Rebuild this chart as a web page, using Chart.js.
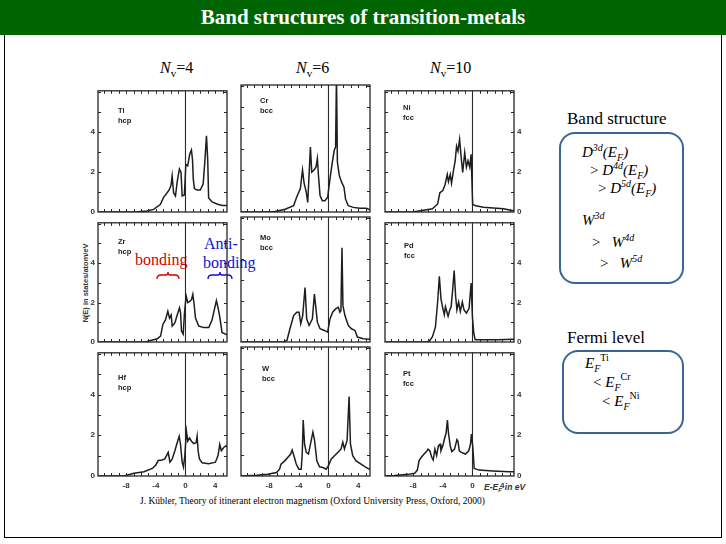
<!DOCTYPE html>
<html>
<head>
<meta charset="utf-8">
<script src="https://cdn.jsdelivr.net/npm/chart.js@4.4.1/dist/chart.umd.min.js"></script>
<style>
  body { margin:0; width:726px; height:544px; position:relative; background:#fff; overflow:hidden;
         font-family:"Liberation Serif","Times New Roman",serif; color:#000; }
  .header { position:absolute; left:0; top:0; width:726px; height:35px; background:#006400; color:#fff;
            font-weight:bold; font-size:21px; text-align:center; line-height:35px; }
  .frame { position:absolute; left:4px; top:35px; width:716px; height:502px;
           border-left:1px solid #000; border-right:1px solid #000; border-bottom:1px solid #000; }
  canvas { position:absolute; filter:blur(0.35px); }
  .t { position:absolute; white-space:nowrap; line-height:1; }
  .nv { font-size:16px; }
  .nv sub { font-size:11px; vertical-align:-4px; line-height:0; }
  .box { position:absolute; border:2px solid #3b6593; border-radius:16px; }
  .m { font-size:15px; }
  .m sup { font-size:10px; vertical-align:6px; line-height:0; }
  .m sub { font-size:10px; vertical-align:-4px; line-height:0; }
  .fig { font-family:"Liberation Sans",Arial,sans-serif; color:#333; font-weight:bold; }
  .lo { display:inline-block; transform:translateY(2px); font-size:6px; margin-right:3px; }
</style>
</head>
<body>
<div class="header">Band structures of transition-metals</div>
<div class="frame"></div>

<div class="t nv" style="left:160px;top:60px"><i>N</i><sub>v</sub>=4</div>
<div class="t nv" style="left:296px;top:60px"><i>N</i><sub>v</sub>=6</div>
<div class="t nv" style="left:430px;top:60px"><i>N</i><sub>v</sub>=10</div>

<div class="t" style="left:135px;top:252px;font-size:16px;color:#d00000">bonding</div>
<div class="t" style="left:204px;top:236px;font-size:16px;color:#1010d0">Anti-</div>
<div class="t" style="left:203px;top:255px;font-size:16px;color:#1010d0">bonding</div>
<svg width="726" height="544" style="position:absolute;left:0;top:0;pointer-events:none">
  <path d="M157,279 Q157,275 161,275 L166,275 Q168,275 168,272 Q168,275 170,275 L175,275 Q179,275 179,279"
        fill="none" stroke="#d00000" stroke-width="1.3"/>
  <path d="M208,279 Q208,275 212,275 L218,275 Q220,275 220,272 Q220,275 222,275 L228,275 Q232,275 232,279"
        fill="none" stroke="#1010d0" stroke-width="1.3"/>
</svg>

<div class="t fig" style="left:86px;top:283px;font-size:7.5px;transform:translate(-50%,-50%) rotate(-90deg)">N(E) in states/atom/eV</div>
<div class="t fig" style="left:484px;top:483px;font-size:8.5px;font-style:italic">E-E<span class="lo">F</span>in eV</div>

<div class="t" style="left:567px;top:110px;font-size:17px">Band structure</div>
<div class="box" style="left:559px;top:132px;width:121px;height:148px"></div>
<div class="t m" style="left:582px;top:145px"><i>D</i><sup><i>3d</i></sup><i>(E<sub>F</sub>)</i></div>
<div class="t m" style="left:590px;top:163px">&gt; <i>D</i><sup><i>4d</i></sup><i>(E<sub>F</sub>)</i></div>
<div class="t m" style="left:598px;top:181px">&gt; <i>D</i><sup><i>5d</i></sup><i>(E<sub>F</sub>)</i></div>
<div class="t m" style="left:582px;top:213px"><i>W</i><sup><i>3d</i></sup></div>
<div class="t m" style="left:592px;top:235px">&gt;&nbsp;&nbsp; <i>W</i><sup><i>4d</i></sup></div>
<div class="t m" style="left:600px;top:256px">&gt;&nbsp;&nbsp; <i>W</i><sup><i>5d</i></sup></div>

<div class="t" style="left:567px;top:329px;font-size:17px">Fermi level</div>
<div class="box" style="left:562px;top:350px;width:118px;height:80px"></div>
<div class="t m" style="left:585px;top:356px"><i>E<sub>F</sub></i><sup style="vertical-align:7px">Ti</sup></div>
<div class="t m" style="left:593px;top:375px">&lt; <i>E<sub>F</sub></i><sup style="vertical-align:7px">Cr</sup></div>
<div class="t m" style="left:602px;top:394px">&lt; <i>E<sub>F</sub></i><sup style="vertical-align:7px">Ni</sup></div>

<div class="t" style="left:140px;top:497px;font-size:9.5px">J. Kübler, Theory of itinerant electron magnetism (Oxford University Press, Oxford, 2000)</div>

<script>
// density of states, [E - E_F (eV), N(E) (states/atom/eV)]
const dosTi = [[-11.8,0],[-6.6,0],[-6.0,0.02],[-5.2,0.05],[-4.3,0.13],[-3.4,0.37],[-2.9,0.77],[-2.7,0.85],[-2.2,1.1],[-1.95,1.33],[-1.8,1.8],[-1.6,0.95],[-1.35,0.8],[-1.12,1.5],[-0.82,2.15],[-0.6,1.97],[-0.45,0.8],[-0.15,0.85],[0.05,2.37],[0.3,2.3],[0.58,2.9],[0.8,3.1],[0.95,2.6],[1.05,1.65],[1.2,1.17],[1.55,1.1],[2.0,1.1],[2.38,1.4],[2.6,2.45],[2.83,3.8],[3.0,2.6],[3.12,0.7],[3.6,0.5],[4.25,0.4],[4.95,0.33],[5.6,0.33]];
const dosCr = [[-11.8,0],[-8,0],[-7.2,0.02],[-5.85,0.13],[-4.7,0.3],[-4.3,0.7],[-3.8,1.1],[-3.5,2.0],[-3.3,1.4],[-3.0,0.95],[-2.8,0.46],[-2.6,1.9],[-2.44,3.1],[-2.26,1.9],[-1.95,2.0],[-1.68,2.15],[-1.5,2.55],[-1.37,1.82],[-1.14,0.78],[-0.83,0.54],[-0.47,0.54],[-0.11,0.7],[0.2,1.58],[0.52,2.38],[0.78,2.94],[0.96,3.1],[1.08,6.6],[1.2,2.38],[1.46,1.74],[1.77,1.42],[2.09,1.18],[2.3,0.62],[2.67,0.3],[3.34,0.22],[4.24,0.18],[5.1,0.18],[5.6,0.11]];
const dosNi = [[-11.8,0],[-8.1,0],[-6.8,0.08],[-5.4,0.16],[-4.7,0.4],[-4.4,0.96],[-4.0,1.07],[-3.7,1.36],[-3.4,1.87],[-3.24,1.52],[-3.0,1.87],[-2.83,1.44],[-2.56,2.08],[-2.33,2.56],[-2.15,3.28],[-1.96,3.04],[-1.74,3.63],[-1.5,2.64],[-1.32,1.97],[-1.05,2.96],[-0.82,2.24],[-0.6,2.56],[-0.37,2.24],[-0.18,2.88],[0.02,0.4],[0.32,0.32],[1.46,0.24],[2.83,0.2],[4.2,0.16],[5.3,0.08],[5.6,0.06]];
const dosZr = [[-11.8,0],[-5.4,0],[-4.7,0.08],[-3.8,0.16],[-3.36,0.3],[-3.05,0.89],[-2.69,1.13],[-2.38,1.56],[-2.15,1.21],[-1.93,1.37],[-1.79,0.81],[-1.43,0.97],[-1.12,1.37],[-0.81,1.73],[-0.67,1.5],[-0.54,0.56],[-0.31,0.4],[-0.13,1.5],[0.09,2.34],[0.31,2.0],[0.58,2.06],[0.81,2.15],[0.99,2.42],[1.17,1.89],[1.35,1.21],[1.79,0.81],[2.47,0.73],[3.14,0.73],[3.59,1.13],[3.81,1.5],[4.17,2.1],[4.39,1.74],[4.62,1.29],[4.93,0.48],[5.6,0.37]];
const dosMo = [[-11.8,0],[-6.1,0],[-5.6,0.08],[-5.2,0.64],[-4.7,1.28],[-4.28,1.44],[-3.97,1.44],[-3.74,0.88],[-3.48,1.28],[-3.16,2.64],[-2.94,1.12],[-2.62,0.8],[-2.17,1.12],[-1.9,2.32],[-1.73,1.76],[-1.5,0.96],[-1.14,0.64],[-0.56,0.56],[-0.11,0.48],[0.2,1.12],[0.56,1.44],[0.96,1.6],[1.32,1.68],[1.55,1.44],[1.68,1.52],[1.82,4.56],[1.95,1.76],[2.22,1.28],[2.67,0.8],[3.1,0.64],[3.57,0.56],[3.9,0.24],[4.7,0.16],[5.6,0.13]];
const dosPd = [[-11.8,0],[-6.3,0],[-5.84,0.03],[-5.4,0.27],[-5.0,0.75],[-4.7,2.03],[-4.47,3.34],[-4.25,2.19],[-4.0,1.71],[-3.8,1.39],[-3.65,1.79],[-3.47,1.55],[-3.29,1.31],[-3.06,1.63],[-2.88,1.79],[-2.65,2.75],[-2.47,3.63],[-2.28,2.35],[-2.1,1.63],[-1.87,2.03],[-1.64,1.55],[-1.37,2.03],[-1.14,1.63],[-0.82,1.47],[-0.46,1.71],[-0.18,2.99],[0.0,1.23],[0.18,0.43],[0.37,0.11],[1.46,0.11],[3.3,0.11],[5.6,0.14]];
const dosHf = [[-11.8,0],[-8.3,0],[-6.95,0.13],[-5.6,0.21],[-4.48,0.37],[-4.04,0.52],[-3.68,0.76],[-3.14,0.79],[-2.78,0.84],[-2.56,1.0],[-2.33,1.16],[-2.1,0.68],[-1.79,0.84],[-1.43,1.24],[-1.12,1.63],[-0.85,1.95],[-0.67,1.56],[-0.45,0.68],[-0.27,0.44],[-0.09,1.0],[0.13,2.19],[0.31,1.71],[0.54,1.87],[0.81,1.71],[1.12,1.59],[1.43,1.63],[1.57,1.95],[1.7,1.24],[1.88,0.84],[2.24,0.65],[3.14,0.6],[4.04,0.68],[4.39,1.0],[4.62,1.56],[4.84,1.24],[5.16,1.4],[5.47,1.48],[5.6,1.43]];
const dosW  = [[-11.8,0],[-9.7,0.03],[-8.2,0.08],[-7.0,0.16],[-6.6,0.32],[-6.4,0.56],[-5.9,0.71],[-5.5,0.87],[-5.1,1.03],[-4.9,1.22],[-4.66,0.95],[-4.35,0.56],[-4.0,0.32],[-3.68,0.32],[-3.54,1.03],[-3.41,2.62],[-3.23,1.51],[-3.0,1.11],[-2.7,1.03],[-2.33,1.67],[-2.1,2.06],[-1.88,1.67],[-1.57,0.71],[-1.21,0.43],[-0.76,0.4],[-0.31,0.32],[0.0,0.48],[0.36,0.79],[0.81,0.95],[1.35,1.14],[1.7,1.27],[1.93,1.59],[2.15,1.27],[2.51,1.67],[2.78,3.73],[2.96,1.51],[3.27,0.95],[3.72,0.71],[4.39,0.56],[5.07,0.4],[5.6,0.3]];
const dosPt = [[-11.8,0],[-10.5,0.02],[-8.7,0.08],[-7.8,0.13],[-7.44,0.29],[-7.2,0.76],[-6.9,0.92],[-6.53,1.08],[-6.2,1.2],[-6.0,1.32],[-5.75,1.24],[-5.5,0.92],[-5.3,0.79],[-5.07,1.32],[-4.84,1.0],[-4.6,1.48],[-4.38,1.56],[-4.25,1.24],[-4.0,1.48],[-3.8,1.79],[-3.56,2.11],[-3.38,2.75],[-3.24,2.11],[-3.0,1.48],[-2.79,1.2],[-2.42,1.32],[-2.1,1.79],[-1.96,1.71],[-1.78,1.24],[-1.5,1.16],[-0.96,1.08],[-0.5,1.24],[-0.27,1.56],[-0.14,2.06],[0.05,1.4],[0.23,0.37],[0.87,0.29],[2.7,0.25],[5.0,0.21],[5.6,0.21]];

const elements = ['Ti', 'Cr', 'Ni', 'Zr', 'Mo', 'Pd', 'Hf', 'W', 'Pt'];
const lattices = ['hcp', 'bcc', 'fcc', 'hcp', 'bcc', 'fcc', 'hcp', 'bcc', 'fcc'];
const dosSets  = [dosTi, dosCr, dosNi, dosZr, dosMo, dosPd, dosHf, dosW, dosPt];

const E_MIN = -11.8, E_MAX = 5.6;
const N_MIN = 0, N_MAX = 6.05;
const E_FERMI = 0;
const eTicks = [-8, -4, 0, 4];
const nTicks = [0, 2, 4];

// panel grid on the page
const colLeft = [98, 241, 385];
const rowTop  = [85, 217, 347];
const rowH    = [127, 125, 129];
const plotW   = 129;
// where the element / lattice names sit inside each panel
const nameOffset = [[20,20],[19,16],[18,17],[20,19],[19,21],[19,23],[20,25],[21,22],[18,21]];

const AXIS_W = 16, AXIS_H = 14, PAD_TOP = 2;
const tickFont = { family: 'Liberation Sans', size: 8, weight: 'bold' };

const panelFrame = {
  id: 'panelFrame',
  afterDraw(chart, args, opts) {
    const { ctx, chartArea: a, scales: { x, y } } = chart;
    ctx.save();
    ctx.strokeStyle = '#262626';
    ctx.lineWidth = 1.3;
    ctx.strokeRect(a.left, a.top, a.right - a.left, a.bottom - a.top);
    ctx.lineWidth = 1;
    ctx.beginPath();
    for (let e = Math.ceil(E_MIN); e <= E_MAX; e++) {
      const px = Math.round(x.getPixelForValue(e)) + 0.5;
      ctx.moveTo(px, a.bottom); ctx.lineTo(px, a.bottom - 3);
      ctx.moveTo(px, a.top);    ctx.lineTo(px, a.top + 3);
    }
    for (let n = 1; n < N_MAX; n++) {
      const py = Math.round(y.getPixelForValue(n)) + 0.5;
      ctx.moveTo(a.left, py);  ctx.lineTo(a.left + 3, py);
      ctx.moveTo(a.right, py); ctx.lineTo(a.right - 3, py);
    }
    ctx.stroke();
    ctx.fillStyle = '#222';
    ctx.font = 'bold 7.5px "Liberation Sans"';
    ctx.textBaseline = 'middle';
    ctx.fillText(opts.name, a.left + opts.dx, a.top + opts.dy);
    ctx.fillText(opts.lattice, a.left + opts.dx, a.top + opts.dy + 10);
    ctx.restore();
  }
};

function yAxis(position, showLabels) {
  return {
    type: 'linear', position, min: N_MIN, max: N_MAX,
    grid: { display: false, drawTicks: false }, border: { display: false },
    afterBuildTicks: s => { s.ticks = nTicks.map(v => ({ value: v })); },
    afterFit: s => { s.width = AXIS_W; },
    ticks: { display: showLabels, font: tickFont, color: '#333', padding: 3 }
  };
}

elements.forEach((name, i) => {
  const col = i % 3, row = Math.floor(i / 3);
  const canvas = document.createElement('canvas');
  canvas.width = plotW + 2 * AXIS_W;
  canvas.height = rowH[row] + AXIS_H + PAD_TOP;
  canvas.style.left = (colLeft[col] - AXIS_W) + 'px';
  canvas.style.top = (rowTop[row] - PAD_TOP) + 'px';
  document.body.appendChild(canvas);

  new Chart(canvas, {
    type: 'line',
    data: {
      datasets: [
        { data: dosSets[i].map(([e, n]) => ({ x: e, y: n })),
          borderColor: '#1e1e1e', borderWidth: 1.5, pointRadius: 0, tension: 0 },
        { data: [{ x: E_FERMI, y: N_MIN }, { x: E_FERMI, y: N_MAX }],
          borderColor: '#2a2a2a', borderWidth: 1.1, pointRadius: 0 }
      ]
    },
    options: {
      responsive: false,
      devicePixelRatio: 1,
      animation: false,
      events: [],
      layout: { padding: { top: PAD_TOP, left: 0, right: 0, bottom: 0 } },
      plugins: {
        legend: { display: false },
        tooltip: { enabled: false },
        panelFrame: { name, lattice: lattices[i], dx: nameOffset[i][0], dy: nameOffset[i][1] }
      },
      scales: {
        x: {
          type: 'linear', min: E_MIN, max: E_MAX,
          grid: { display: false, drawTicks: false }, border: { display: false },
          afterBuildTicks: s => { s.ticks = eTicks.map(v => ({ value: v })); },
          afterFit: s => { s.height = AXIS_H; },
          ticks: { display: row === 2, font: tickFont, color: '#333', padding: 5, maxRotation: 0, autoSkip: false }
        },
        y: yAxis('left', col === 0),
        y2: yAxis('right', col === 2)
      }
    },
    plugins: [panelFrame]
  });
});
</script>
</body>
</html>
